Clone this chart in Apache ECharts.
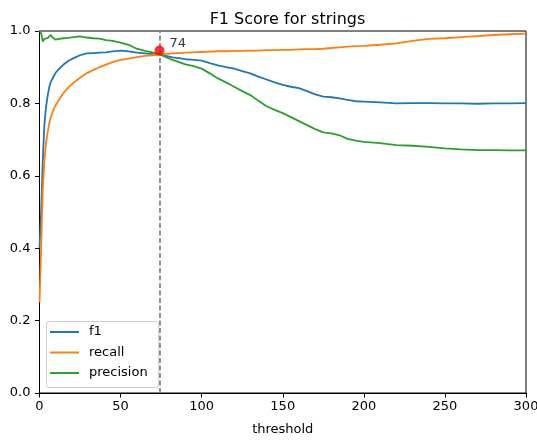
<!DOCTYPE html>
<html>
<head>
<meta charset="utf-8">
<script src="https://cdn.jsdelivr.net/npm/echarts@6/dist/echarts.min.js"></script>
<style>
  html, body { margin: 0; padding: 0; background: #fff; }
  #chart { width: 537px; height: 441px; }
</style>
</head>
<body>
<div id="chart"></div>
<script>
// Threshold values shared by all three curves
const thresholds = [0,1,2,3,4,5,6,7,8,9,10,12,15,18,21,25,29,33,37,41,45,50,55,60,65,70,74,78,82,86,90,
  95,100,105,110,115,120,125,130,135,140,145,150,155,160,165,170,175,180,185,190,195,200,
  210,220,230,240,250,260,270,280,290,300];

const f1 = [0.40,0.50,0.64,0.74,0.79,0.82,0.845,0.86,0.868,0.877,0.885,
  0.895,0.908,0.918,0.925,0.933,0.938,0.939,0.940,0.941,0.944,
  0.946,0.944,0.940,0.938,0.936,0.935,
  0.931,0.927,0.925,0.922,
  0.920,0.918,0.911,0.905,0.900,0.896,0.889,0.883,0.874,0.866,0.858,0.851,0.846,0.842,0.834,0.825,0.819,0.817,0.814,0.810,0.806,0.805,
  0.803,0.800,0.801,0.801,0.800,0.800,0.799,0.800,0.800,0.801];

const recall = [0.25,0.40,0.56,0.64,0.69,0.72,0.745,0.762,0.775,0.786,0.795,
  0.81,0.83,0.845,0.857,0.871,0.883,0.892,0.900,0.907,0.914,
  0.920,0.924,0.928,0.931,0.933,0.935,
  0.937,0.938,0.939,0.940,
  0.941,0.942,0.943,0.944,0.944,0.945,0.945,0.946,0.946,0.947,0.947,0.948,0.948,0.949,0.950,0.950,0.951,0.953,0.955,0.957,0.958,0.959,
  0.962,0.966,0.973,0.978,0.980,0.983,0.986,0.989,0.991,0.993];

const precision = [1.0,0.994,0.971,0.978,0.976,0.980,0.984,0.989,0.982,0.977,0.976,
  0.978,0.980,0.981,0.983,0.985,0.982,0.980,0.979,0.975,0.973,
  0.968,0.962,0.951,0.945,0.940,0.936,
  0.928,0.920,0.914,0.908,
  0.903,0.896,0.883,0.869,0.858,0.846,0.834,0.823,0.807,0.792,0.782,0.773,0.762,0.751,0.740,0.729,0.720,0.717,0.712,0.702,0.697,0.694,
  0.690,0.685,0.683,0.680,0.676,0.673,0.671,0.671,0.670,0.670];

// Best threshold and its f1-marker value
const bestThreshold = 74;
const bestScore = 0.946;

const xTicks = [0, 50, 100, 150, 200, 250, 300];
const yTicks = [0.0, 0.2, 0.4, 0.6, 0.8, 1.0];

const FONT = 'DejaVu Sans';
const pair = (ys) => thresholds.map((t, i) => [t, ys[i]]);

const lineSeries = (name, ys, color) => ({
  name: name,
  type: 'line',
  data: pair(ys),
  showSymbol: false,
  symbol: 'none',
  lineStyle: { color: color, width: 1.8 },
  itemStyle: { color: color },
  z: 3
});

const chart = echarts.init(document.getElementById('chart'), null, { renderer: 'canvas' });

chart.setOption({
  animation: false,
  backgroundColor: '#fff',
  textStyle: { fontFamily: FONT },
  title: {
    text: 'F1 Score for strings',
    left: 282.5,
    top: 7,
    textAlign: 'center',
    textStyle: { fontFamily: FONT, fontSize: 16, fontWeight: 'normal', color: '#000' }
  },
  grid: {
    left: 39.5, right: 11, top: 31, bottom: 48,
    outerBoundsMode: 'none',
    containLabel: false,
    show: true, borderColor: '#000', borderWidth: 1, backgroundColor: 'transparent'
  },
  legend: {
    data: ['f1', 'recall', 'precision'],
    orient: 'vertical',
    left: 46.5,
    top: 321.5,
    icon: 'rect',
    itemWidth: 29,
    itemHeight: 2,
    itemGap: 6.5,
    padding: [3.5, 11, 7.5, 3.5],
    backgroundColor: 'rgba(255,255,255,0.8)',
    borderColor: '#cccccc',
    borderWidth: 1,
    borderRadius: 3,
    textStyle: { fontFamily: FONT, fontSize: 13, color: '#000', lineHeight: 14, padding: [0, 0, 0, 5] }
  },
  xAxis: {
    type: 'value',
    min: xTicks[0],
    max: xTicks[xTicks.length - 1],
    interval: 50,
    name: 'threshold',
    nameLocation: 'middle',
    nameGap: 30,
    nameTextStyle: { fontFamily: FONT, fontSize: 13, color: '#000' },
    axisLine: { show: true, lineStyle: { color: '#000', width: 1 } },
    axisTick: { show: true, length: 4.5, lineStyle: { color: '#000' } },
    axisLabel: { margin: 7, fontFamily: FONT, fontSize: 13, color: '#000' },
    splitLine: { show: false }
  },
  yAxis: {
    type: 'value',
    min: yTicks[0],
    max: yTicks[yTicks.length - 1],
    interval: 0.2,
    axisLine: { show: true, lineStyle: { color: '#000', width: 1 } },
    axisTick: { show: true, length: 4.5, lineStyle: { color: '#000' } },
    axisLabel: { margin: 9, fontFamily: FONT, fontSize: 13, color: '#000', formatter: (v) => v.toFixed(1) },
    splitLine: { show: false }
  },
  series: [
    lineSeries('f1', f1, '#1f77b4'),
    lineSeries('recall', recall, '#ff7f0e'),
    lineSeries('precision', precision, '#2ca02c'),
    {
      name: 'best',
      type: 'scatter',
      data: [[bestThreshold, bestScore]],
      symbolSize: 10,
      itemStyle: { color: '#ff0000' },
      z: 6,
      label: {
        show: true,
        position: 'right',
        distance: 5,
        offset: [0, -7],
        formatter: String(bestThreshold),
        fontFamily: FONT,
        fontSize: 13,
        color: '#000'
      },
      markLine: {
        silent: true,
        symbol: ['none', 'none'],
        label: { show: false },
        lineStyle: { color: '#777', type: [5, 2.5], width: 1.6 },
        data: [{ xAxis: bestThreshold }],
        z: 5
      }
    }
  ]
});
</script>
</body>
</html>
